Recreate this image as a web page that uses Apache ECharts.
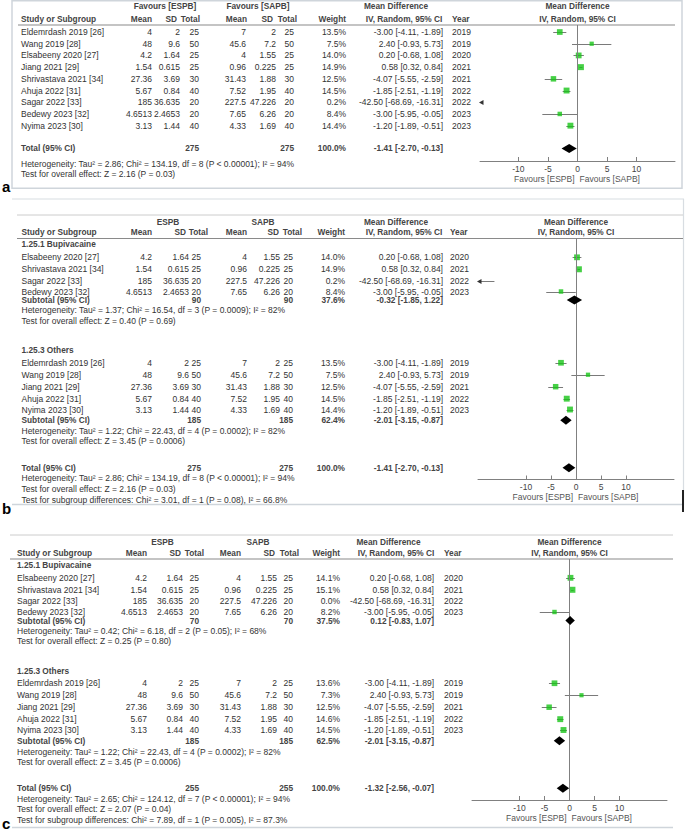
<!DOCTYPE html>
<html><head><meta charset="utf-8">
<script src="https://cdn.jsdelivr.net/npm/echarts@6/dist/echarts.min.js"></script>
<style>html,body{margin:0;padding:0;background:#fff}#c{width:685px;height:832px}</style>
</head><body><div id="c"></div>
<script>
// ================= DATA =================
// Panel a : all studies
const aStudies  = ['Eldemrdash 2019 [26]','Wang 2019 [28]','Elsabeeny 2020 [27]','Jiang 2021 [29]','Shrivastava 2021 [34]','Ahuja 2022 [31]','Sagar 2022 [33]','Bedewy 2023 [32]','Nyima 2023 [30]'];
const aEspbMean = ['4','48','4.2','1.54','27.36','5.67','185','4.6513','3.13'];
const aEspbSD   = ['2','9.6','1.64','0.615','3.69','0.84','36.635','2.4653','1.44'];
const aEspbN    = [25,50,25,25,30,40,20,20,40];
const aSapbMean = ['7','45.6','4','0.96','31.43','7.52','227.5','7.65','4.33'];
const aSapbSD   = ['2','7.2','1.55','0.225','1.88','1.95','47.226','6.26','1.69'];
const aSapbN    = [25,50,25,25,30,40,20,20,40];
const aWeight   = [13.5,7.5,14.0,14.9,12.5,14.5,0.2,8.4,14.4];
const aMD       = [-3.00,2.40,0.20,0.58,-4.07,-1.85,-42.50,-3.00,-1.20];
const aLow      = [-4.11,-0.93,-0.68,0.32,-5.55,-2.51,-68.69,-5.95,-1.89];
const aHigh     = [-1.89,5.73,1.08,0.84,-2.59,-1.19,-16.31,-0.05,-0.51];
const aYear     = [2019,2019,2020,2021,2021,2022,2022,2023,2023];
const aTotalN   = [275,275];
const aTotalCI  = [-1.41,-2.70,-0.13];
const aHet = 'Heterogeneity: Tau² = 2.86; Chi² = 134.19, df = 8 (P < 0.00001); I² = 94%';
const aZ   = 'Test for overall effect: Z = 2.16 (P = 0.03)';

// Panels b and c : subgroup 1.25.1 Bupivacaine
const bupStudies  = ['Elsabeeny 2020 [27]','Shrivastava 2021 [34]','Sagar 2022 [33]','Bedewy 2023 [32]'];
const bupEspbMean = ['4.2','1.54','185','4.6513'];
const bupEspbSD   = ['1.64','0.615','36.635','2.4653'];
const bupEspbN    = [25,25,20,20];
const bupSapbMean = ['4','0.96','227.5','7.65'];
const bupSapbSD   = ['1.55','0.225','47.226','6.26'];
const bupSapbN    = [25,25,20,20];
const bupMD       = [0.20,0.58,-42.50,-3.00];
const bupLow      = [-0.68,0.32,-68.69,-5.95];
const bupHigh     = [1.08,0.84,-16.31,-0.05];
const bupYear     = [2020,2021,2022,2023];
const bupWeightB  = [14.0,14.9,0.2,8.4];
const bupWeightC  = [14.1,15.1,0.0,8.2];
// subgroup 1.25.3 Others
const othStudies  = ['Eldemrdash 2019 [26]','Wang 2019 [28]','Jiang 2021 [29]','Ahuja 2022 [31]','Nyima 2023 [30]'];
const othEspbMean = ['4','48','27.36','5.67','3.13'];
const othEspbSD   = ['2','9.6','3.69','0.84','1.44'];
const othEspbN    = [25,50,30,40,40];
const othSapbMean = ['7','45.6','31.43','7.52','4.33'];
const othSapbSD   = ['2','7.2','1.88','1.95','1.69'];
const othSapbN    = [25,50,30,40,40];
const othMD       = [-3.00,2.40,-4.07,-1.85,-1.20];
const othLow      = [-4.11,-0.93,-5.55,-2.51,-1.89];
const othHigh     = [-1.89,5.73,-2.59,-1.19,-0.51];
const othYear     = [2019,2019,2021,2022,2023];
const othWeightB  = [13.5,7.5,12.5,14.5,14.4];
const othWeightC  = [13.6,7.3,12.5,14.6,14.5];

const subgroupTitles = ['1.25.1 Bupivacaine','1.25.3 Others'];
const bSubN  = [[90,90],[185,185]];
const bSubW  = [37.6,62.4];
const bSubCI = [[-0.32,-1.85,1.22],[-2.01,-3.15,-0.87]];
const bTotalN  = [275,275];
const bTotalCI = [-1.41,-2.70,-0.13];
const bHet = ['Heterogeneity: Tau² = 1.37; Chi² = 16.54, df = 3 (P = 0.0009); I² = 82%',
              'Heterogeneity: Tau² = 1.22; Chi² = 22.43, df = 4 (P = 0.0002); I² = 82%',
              'Heterogeneity: Tau² = 2.86; Chi² = 134.19, df = 8 (P < 0.00001); I² = 94%'];
const bZ = ['Test for overall effect: Z = 0.40 (P = 0.69)',
            'Test for overall effect: Z = 3.45 (P = 0.0006)',
            'Test for overall effect: Z = 2.16 (P = 0.03)'];
const bSubgroupTest = 'Test for subgroup differences: Chi² = 3.01, df = 1 (P = 0.08), I² = 66.8%';

const cSubN  = [[70,70],[185,185]];
const cSubW  = [37.5,62.5];
const cSubCI = [[0.12,-0.83,1.07],[-2.01,-3.15,-0.87]];
const cTotalN  = [255,255];
const cTotalCI = [-1.32,-2.56,-0.07];
const cHet = ['Heterogeneity: Tau² = 0.42; Chi² = 6.18, df = 2 (P = 0.05); I² = 68%',
              'Heterogeneity: Tau² = 1.22; Chi² = 22.43, df = 4 (P = 0.0002); I² = 82%',
              'Heterogeneity: Tau² = 2.65; Chi² = 124.12, df = 7 (P < 0.00001); I² = 94%'];
const cZ = ['Test for overall effect: Z = 0.25 (P = 0.80)',
            'Test for overall effect: Z = 3.45 (P = 0.0006)',
            'Test for overall effect: Z = 2.07 (P = 0.04)'];
const cSubgroupTest = 'Test for subgroup differences: Chi² = 7.89, df = 1 (P = 0.005), I² = 87.3%';

const xTicks = [-10,-5,0,5,10];

// ================= LAYOUT / STYLE =================
const FONT = '"Liberation Sans", Arial, sans-serif';
const FS = 8.5;     // regular text
const FSB = 8.3;    // bold text
const TXT = '#333';
const HDR = '#444';
const CI_COL = '#7a7a7a';
const SQ_COL = '#18c418';

const LAY = [
  { headerY:25, axisY:161, axisPos:11.62, left:480, width:195, xMin:-16.5, xMax:16.5,
    cols:{name:21,eM:152,eS:180,eN:199,sM:246,sS:276,sN:294,w:346,md:443,yr:452,g1:165,g2:258,mdh1:396,mdh2:404},
    hdr:{eM:152,eS:177,eN:200,sM:247,sS:273,sN:297,w:346},
    g1:'Favours [ESPB]', g2:'Favours [SAPB]', h1:-1.62, h2:-0.52 },
  { headerY:238.5, axisY:479.5, axisPos:21.14, left:478, width:196, xMin:-19.6, xMax:19.6,
    cols:{name:21.5,eM:152,eS:189,eN:201,sM:247,sS:280,sN:293,w:345,md:443,yr:450,g1:168,g2:263,mdh1:396,mdh2:404},
    hdr:{eM:152,eS:186,eN:208,sM:247,sS:279,sN:302,w:345},
    g1:'ESPB', g2:'SAPB', h1:-1.45, h2:-0.53 },
  { headerY:559, axisY:800, axisPos:21.14, left:472, width:195, xMin:-19.5, xMax:19.5,
    cols:{name:17,eM:147,eS:183,eN:199,sM:241,sS:277,sN:293,w:340,md:434,yr:444,g1:162.5,g2:258,mdh1:388.5,mdh2:396},
    hdr:{eM:147,eS:181,eN:204,sM:241,sS:275,sN:299,w:340},
    g1:'ESPB', g2:'SAPB', h1:-1.45, h2:-0.53 }
];
// row positions (in row units below the header rule)
const aRowPos = [0.6,1.6,2.6,3.6,4.6,5.6,6.6,7.6,8.6];
const aTotalPos = 10.55, aHetPos = 11.9, aZPos = 12.75;
const grpPos = [
  { head:0.5, rows:[1.65,2.7,3.7,4.65], sub:5.4, het:6.3, z:7.2 },
  { head:9.8, rows:[10.9,11.95,13,14.05,15], sub:15.95, het:16.9, z:17.8 }
];
const totPos = { total:20.1, het:21.05, z:21.95, sg:22.9 };

// ================= BUILD =================
function fmtMD(md, lo, hi){ return md.toFixed(2)+' ['+lo.toFixed(2)+', '+hi.toFixed(2)+']'; }
const P = LAY.map(L => ({L, texts:[], ci:[], sq:[], dia:[]}));
function T(p, pos, x, str, align, bold){ p.texts.push({pos, x, str, align, bold}); }
function addStudy(p, pos, name, em, es, en, sm, ss, sn, w, md, lo, hi, yr){
  const c = p.L.cols;
  T(p,pos,c.name,name,'left'); T(p,pos,c.eM,em,'right'); T(p,pos,c.eS,es,'right'); T(p,pos,c.eN,String(en),'right');
  T(p,pos,c.sM,sm,'right'); T(p,pos,c.sS,ss,'right'); T(p,pos,c.sN,String(sn),'right');
  T(p,pos,c.w,w.toFixed(1)+'%','right'); T(p,pos,c.md,fmtMD(md,lo,hi),'right'); T(p,pos,c.yr,String(yr),'left');
  if (w > 0) {
    p.ci.push([lo,hi,pos]);
    if (md >= p.L.xMin && md <= p.L.xMax) p.sq.push([md,pos,w]);
  }
}
function addPooled(p, pos, label, n, w, ci){
  const c = p.L.cols;
  T(p,pos,c.name,label,'left',true); T(p,pos,c.eN,String(n[0]),'right',true); T(p,pos,c.sN,String(n[1]),'right',true);
  T(p,pos,c.w,w.toFixed(1)+'%','right',true); T(p,pos,c.md,fmtMD(ci[0],ci[1],ci[2]),'right',true);
  p.dia.push([ci[0],ci[1],ci[2],pos]);
}
function addHeaders(p){
  const c = p.L.cols, h = p.L.hdr, L = p.L;
  T(p,L.h1,c.g1,L.g1,'center',true); T(p,L.h1,c.g2,L.g2,'center',true);
  T(p,L.h1,c.mdh1,'Mean Difference','center',true); T(p,L.h1,'zero','Mean Difference','center',true);
  T(p,L.h2,c.name,'Study or Subgroup','left',true);
  T(p,L.h2,h.eM,'Mean','right',true); T(p,L.h2,h.eS,'SD','right',true); T(p,L.h2,h.eN,'Total','right',true);
  T(p,L.h2,h.sM,'Mean','right',true); T(p,L.h2,h.sS,'SD','right',true); T(p,L.h2,h.sN,'Total','right',true);
  T(p,L.h2,h.w,'Weight','right',true); T(p,L.h2,c.mdh2,'IV, Random, 95% CI','center',true);
  T(p,L.h2,c.yr,'Year','left',true); T(p,L.h2,'zero','IV, Random, 95% CI','center',true);
}
// panel a
addHeaders(P[0]);
aStudies.forEach((s,i)=>addStudy(P[0],aRowPos[i],s,aEspbMean[i],aEspbSD[i],aEspbN[i],aSapbMean[i],aSapbSD[i],aSapbN[i],aWeight[i],aMD[i],aLow[i],aHigh[i],aYear[i]));
addPooled(P[0],aTotalPos,'Total (95% CI)',aTotalN,100,aTotalCI);
T(P[0],aHetPos,P[0].L.cols.name,aHet,'left'); T(P[0],aZPos,P[0].L.cols.name,aZ,'left');
// panels b, c
function buildGrouped(p, bupW, othW, subN, subW, subCI, totN, totCI, het, z, sgTest){
  addHeaders(p);
  const c = p.L.cols;
  const groups = [
    {names:bupStudies,em:bupEspbMean,es:bupEspbSD,en:bupEspbN,sm:bupSapbMean,ss:bupSapbSD,sn:bupSapbN,w:bupW,md:bupMD,lo:bupLow,hi:bupHigh,yr:bupYear},
    {names:othStudies,em:othEspbMean,es:othEspbSD,en:othEspbN,sm:othSapbMean,ss:othSapbSD,sn:othSapbN,w:othW,md:othMD,lo:othLow,hi:othHigh,yr:othYear}
  ];
  groups.forEach((g,gi)=>{
    const gp = grpPos[gi];
    T(p,gp.head,c.name,subgroupTitles[gi],'left',true);
    g.names.forEach((s,i)=>addStudy(p,gp.rows[i],s,g.em[i],g.es[i],g.en[i],g.sm[i],g.ss[i],g.sn[i],g.w[i],g.md[i],g.lo[i],g.hi[i],g.yr[i]));
    addPooled(p,gp.sub,'Subtotal (95% CI)',subN[gi],subW[gi],subCI[gi]);
    T(p,gp.het,c.name,het[gi],'left'); T(p,gp.z,c.name,z[gi],'left');
  });
  addPooled(p,totPos.total,'Total (95% CI)',totN,100,totCI);
  T(p,totPos.het,c.name,het[2],'left'); T(p,totPos.z,c.name,z[2],'left'); T(p,totPos.sg,c.name,sgTest,'left');
}
buildGrouped(P[1],bupWeightB,othWeightB,bSubN,bSubW,bSubCI,bTotalN,bTotalCI,bHet,bZ,bSubgroupTest);
buildGrouped(P[2],bupWeightC,othWeightC,cSubN,cSubW,cSubCI,cTotalN,cTotalCI,cHet,cZ,cSubgroupTest);

// ================= CHART =================
function renderCI(params, api){
  const lo = api.value(0), hi = api.value(1), y = api.value(2);
  const cs = params.coordSys;
  const a = api.coord([lo,y]), b = api.coord([hi,y]);
  const left = cs.x, right = cs.x + cs.width, yy = Math.round(a[1]) + 0.5;
  const x1 = Math.max(a[0], left), x2 = Math.min(b[0], right);
  const ch = [];
  if (x2 > x1) ch.push({type:'line', shape:{x1:x1,y1:yy,x2:x2,y2:yy}, style:{stroke:CI_COL,lineWidth:1}});
  if (a[0] < left) ch.push({type:'polygon', shape:{points:[[left-1,yy],[left+3.5,yy-2.5],[left+3.5,yy+2.5]]}, style:{fill:'#333'}});
  if (b[0] > right) ch.push({type:'polygon', shape:{points:[[right+1,yy],[right-3.5,yy-2.5],[right-3.5,yy+2.5]]}, style:{fill:'#333'}});
  return {type:'group', children:ch};
}
function renderDia(params, api){
  const y = api.value(3);
  const pm = api.coord([api.value(0),y]), pl = api.coord([api.value(1),y]), ph = api.coord([api.value(2),y]);
  const h = 4.5;
  return {type:'polygon', shape:{points:[[pl[0],pl[1]],[pm[0],pm[1]-h],[ph[0],ph[1]],[pm[0],pm[1]+h]]}, style:{fill:'#000'}};
}

const grids=[], xAxes=[], yAxes=[], series=[];
P.forEach((p,i)=>{
  const L = p.L;
  grids.push({left:L.left, width:L.width, top:L.headerY, height:L.axisY-L.headerY});
  xAxes.push({gridIndex:i, type:'value', min:L.xMin, max:L.xMax, position:'bottom',
    axisLine:{show:true,onZero:false,lineStyle:{color:'#808080',width:1}},
    axisTick:{show:true,inside:true,length:4,customValues:xTicks,lineStyle:{color:'#808080'}},
    axisLabel:{customValues:xTicks,fontSize:FS,fontFamily:FONT,color:'#444',margin:3},
    splitLine:{show:false}});
  yAxes.push({gridIndex:i, type:'value', min:0, max:L.axisPos, inverse:true, show:false});
  series.push({type:'custom', xAxisIndex:i, yAxisIndex:i, data:p.ci, encode:{x:[0,1],y:2}, renderItem:renderCI, z:3, silent:true});
  series.push({type:'scatter', xAxisIndex:i, yAxisIndex:i, data:p.sq, symbol:'rect',
    symbolSize:v=>Math.max(1.5,1.55*Math.sqrt(v[2])), itemStyle:{color:SQ_COL}, z:4, silent:true,
    markLine:{silent:true,symbol:['none','none'],label:{show:false},lineStyle:{color:'#808080',width:1,type:'solid'},data:[{xAxis:0}]}});
  series.push({type:'custom', xAxisIndex:i, yAxisIndex:i, data:p.dia, encode:{x:[0,1,2],y:3}, renderItem:renderDia, z:5, silent:true});
});

const chart = echarts.init(document.getElementById('c'), null, {renderer:'svg'});
chart.setOption({animation:false, backgroundColor:'#fff', grid:grids, xAxis:xAxes, yAxis:yAxes, series});

// ---- text & rules, placed through the axes ----
const G = [];
function txt(x,y,str,align,bold,size,color){
  G.push({type:'text', x:x, y:y, silent:true, z:10,
    style:{text:str, align:align, textAlign:align, verticalAlign:'middle', textVerticalAlign:'middle',
      fontFamily:FONT, fontSize:size||(bold?FSB:FS), fontWeight:bold?'bold':'normal', fill:color||(bold?HDR:TXT)}});
}
function line(x1,y1,x2,y2,col,w){
  G.push({type:'line', silent:true, z:1, shape:{x1,y1,x2,y2}, style:{stroke:col,lineWidth:w||1}});
}
P.forEach((p,i)=>{
  const zero = chart.convertToPixel({gridIndex:i},[0,0])[0];
  p.texts.forEach(t=>{
    const y = chart.convertToPixel({gridIndex:i},[0,t.pos])[1];
    txt(t.x==='zero'?zero:t.x, y, t.str, t.align, t.bold);
  });
  const ay = p.L.axisY;
  txt(zero-3, ay+17.5, 'Favours [ESPB]', 'right', false, FS, '#555');
  txt(zero+2, ay+17.5, 'Favours [SAPB]', 'left', false, FS, '#555');
});
// panel a frame and rule
G.push({type:'rect', silent:true, z:0, shape:{x:12,y:0.75,width:670,height:187.5}, style:{fill:'none',stroke:'#cfd5db',lineWidth:1.5}});
line(18,25,675,25,'#8a8a8a',1.2);
// panel b frame and rules
line(12,199,684,199,'#d8dde2',1.2); line(683.5,199,683.5,505,'#d8dde2',1.2); line(12,504.5,683,504.5,'#cfd5db',1.5);
line(17,215,683,215,'#cccccc',1); line(17,238.5,683,238.5,'#8a8a8a',1.2);
line(683,490,683,512,'#222',2);
// panel c rules
line(10,535,673,535,'#cccccc',1); line(10,559,673,559,'#8a8a8a',1.2); line(12,827.5,673,827.5,'#cfd5db',1.5);
// panel letters
txt(2,186,'a','left',true,15,'#000');
txt(2,508,'b','left',true,15,'#000');
txt(2,823,'c','left',true,15,'#000');
chart.setOption({graphic:G});
</script></body></html>
